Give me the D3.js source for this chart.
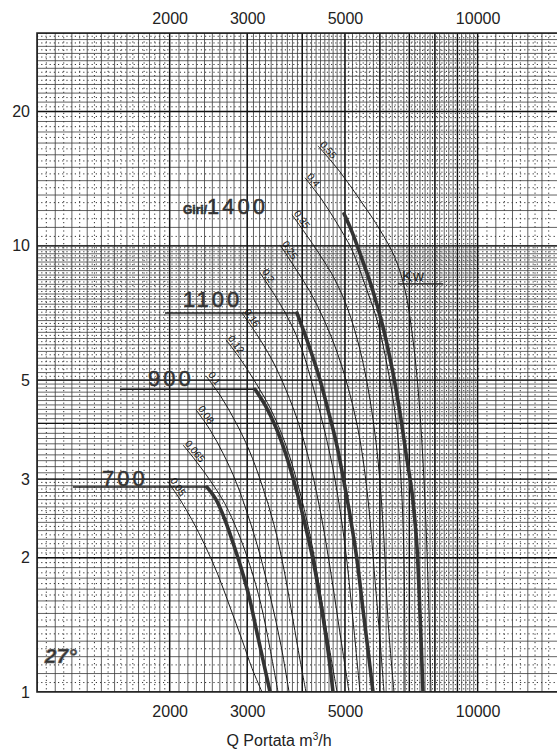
<!DOCTYPE html>
<html>
<head>
<meta charset="utf-8">
<script src="https://cdn.jsdelivr.net/npm/d3@7"></script>
<style>
  html, body { margin: 0; padding: 0; background: #fff; }
  svg { display: block; font-family: "Liberation Sans", Arial, sans-serif; }
</style>
</head>
<body>
<svg width="557" height="752"></svg>
<script>
const width = 557, height = 752;

// tick labels
const qTicks = [2000, 3000, 5000, 10000];
const pTicks = [1, 2, 3, 5, 10, 20];

// fan curves per speed, [Q m3/h, pressure]
const flat700 = [[1207, 2.88], [2431, 2.88]];
const flat900 = [[1543, 4.77], [3125, 4.77]];
const flat1100 = [[1952, 7.07], [3892, 7.07]];
const curve700 = [[2431, 2.88], [2549, 2.70], [2671, 2.43], [2785, 2.16], [2904, 1.90], [3028, 1.64], [3141, 1.39], [3258, 1.18], [3380, 1.0]];
const curve900 = [[3125, 4.77], [3292, 4.40], [3488, 3.91], [3675, 3.40], [3851, 2.91], [4036, 2.43], [4231, 1.98], [4411, 1.57], [4575, 1.24], [4697, 1.0]];
const curve1100 = [[3892, 7.07], [4036, 6.42], [4209, 5.70], [4388, 5.01], [4575, 4.29], [4772, 3.64], [4949, 3.04], [5133, 2.49], [5324, 1.98], [5494, 1.53], [5640, 1.24], [5789, 1.0]];
const curve1400 = [[4975, 11.8], [5187, 10.75], [5494, 9.21], [5759, 8.05], [6099, 6.58], [6426, 5.19], [6666, 4.22], [6915, 3.31], [7097, 2.80], [7285, 2.11], [7400, 1.50], [7517, 1.0]];

// absorbed power lines (kW)
const kwLabels = ["0,55", "0,4", "0,35", "0,25", "0,2", "0,16", "0,12", "0,1", "0,08", "0,065", "0,05"];
const kw055 = [[4343, 16.75], [4872, 14.65], [5409, 12.68], [6004, 10.86], [6494, 9.40], [6843, 7.97], [7134, 6.16], [7361, 4.52], [7556, 2.99], [7716, 1.78], [7839, 1.0]];
const kw04 = [[4058, 14.21], [4434, 12.68], [4821, 11.14], [5187, 9.79], [5552, 8.18], [5912, 6.82], [6260, 5.27], [6528, 4.07], [6701, 2.99], [6807, 1.98], [6843, 1.0]];
const kw035 = [[3791, 11.74], [4058, 10.69], [4388, 9.54], [4747, 8.39], [5080, 7.19], [5409, 5.85], [5699, 4.52], [5942, 3.31], [6131, 2.19], [6260, 1.45], [6460, 1.0]];
const kw025 = [[3561, 10.05], [3851, 8.93], [4165, 7.89], [4504, 6.75], [4821, 5.70], [5133, 4.64], [5409, 3.67], [5640, 2.70], [5850, 1.78], [6004, 1.31], [6131, 1.0]];
const kw02 = [[3207, 8.70], [3470, 7.73], [3733, 6.82], [3994, 5.85], [4253, 4.75], [4504, 3.82], [4747, 2.99], [5001, 2.13], [5214, 1.45], [5409, 1.0]];
const kw016 = [[2919, 7.07], [3158, 6.32], [3416, 5.55], [3675, 4.75], [3933, 3.97], [4187, 3.18], [4434, 2.43], [4673, 1.78], [4897, 1.31], [5107, 1.0]];
const kw012 = [[2685, 6.16], [2904, 5.55], [3141, 4.92], [3398, 4.29], [3655, 3.62], [3912, 2.91], [4165, 2.25], [4388, 1.69], [4600, 1.27], [4797, 1.0]];
const kw01 = [[2419, 5.11], [2616, 4.59], [2815, 4.05], [3028, 3.49], [3241, 2.91], [3451, 2.37], [3636, 1.88], [3811, 1.45], [3953, 1.18], [4079, 1.0]];
const kw008 = [[2296, 4.29], [2470, 3.87], [2643, 3.43], [2829, 2.96], [3012, 2.49], [3207, 2.03], [3398, 1.61], [3580, 1.27], [3733, 1.0]];
const kw0065 = [[2145, 3.58], [2308, 3.27], [2483, 2.96], [2671, 2.64], [2859, 2.28], [3044, 1.92], [3224, 1.57], [3380, 1.25], [3524, 1.0]];
const kw005 = [[1983, 2.96], [2112, 2.70], [2248, 2.43], [2406, 2.13], [2575, 1.83], [2742, 1.55], [2919, 1.31], [3076, 1.13], [3241, 1.0]];

const flats = [flat700, flat900, flat1100];
const curves = [curve700, curve900, curve1100, curve1400];
const kwLines = [kw055, kw04, kw035, kw025, kw02, kw016, kw012, kw01, kw008, kw0065, kw005];

const plotLeft = 37, plotTop = 33, plotBottom = 692;
const x = d3.scaleLog().domain([1000, 15000]).range([plotLeft, plotLeft + 440.6 * Math.log10(15)]);
const y = d3.scaleLog().domain([1, 30]).range([plotBottom, plotTop]);

const svg = d3.select("svg");

svg.append("clipPath").attr("id", "plot")
    .append("rect").attr("x", plotLeft).attr("y", plotTop)
    .attr("width", width - plotLeft).attr("height", plotBottom - plotTop);

// log paper grid: [from, to, solid step, dotted halves?]
function gridValues(ranges) {
    const solid = [], dotted = [];
    ranges.forEach(([a, b, step, dots]) => {
        const n = Math.round((b - a) / step);
        for (let i = 0; i < n; i++) {
            const v = a + i * step;
            solid.push(+v.toFixed(4));
            if (dots) dotted.push(+(v + step / 2).toFixed(4));
        }
    });
    return {solid, dotted};
}
const qGrid = gridValues([[1000, 2000, 100, true], [2000, 5000, 100, false], [5000, 10000, 200, true], [10000, 15000, 1000, true]]);
const pGrid = gridValues([[1, 3, 0.1, true], [3, 5, 0.1, false], [5, 10, 0.2, true], [10, 30, 1, true]]);
const qMajor = d3.range(1000, 11000, 1000);
const pMajor = [1, 2, 3, 4, 5, 10, 20, 30];

const grid = svg.append("g").attr("clip-path", "url(#plot)");

function vLines(vals) {
    return grid.append("g").selectAll("line").data(vals).enter().append("line")
        .attr("x1", d => x(d)).attr("x2", d => x(d)).attr("y1", plotTop).attr("y2", plotBottom);
}
function hLines(vals) {
    return grid.append("g").selectAll("line").data(vals).enter().append("line")
        .attr("x1", plotLeft).attr("x2", width).attr("y1", d => y(d)).attr("y2", d => y(d));
}
[vLines(qGrid.dotted), hLines(pGrid.dotted)].forEach(s => s
    .attr("stroke", "#333").attr("stroke-width", 1).attr("stroke-dasharray", "1.2,3"));
[vLines(qGrid.solid), hLines(pGrid.solid)].forEach(s => s
    .attr("stroke", "#3a3a3a").attr("stroke-width", 0.8));
[vLines(qMajor), hLines(pMajor)].forEach(s => s
    .attr("stroke", "#111").attr("stroke-width", 1.4));

svg.append("path")
    .attr("d", `M${width},${plotTop}H${plotLeft}V${plotBottom}H${width}`)
    .attr("fill", "none").attr("stroke", "#222").attr("stroke-width", 1.6);

// axes
const fmt = d => String(d);
const axTop = svg.append("g").attr("transform", `translate(0,${plotTop})`)
    .call(d3.axisTop(x).tickValues(qTicks).tickFormat(fmt).tickSize(0).tickPadding(9));
const axBottom = svg.append("g").attr("transform", `translate(0,${plotBottom})`)
    .call(d3.axisBottom(x).tickValues(qTicks).tickFormat(fmt).tickSize(0).tickPadding(14));
const axLeft = svg.append("g").attr("transform", `translate(${plotLeft},0)`)
    .call(d3.axisLeft(y).tickValues(pTicks).tickFormat(fmt).tickSize(0).tickPadding(7));
[axTop, axBottom, axLeft].forEach(a => {
    a.select(".domain").remove();
    a.selectAll("text").attr("font-size", 16).attr("fill", "#222")
        .attr("font-family", "'Liberation Sans', Arial, sans-serif");
});

const title = svg.append("text")
    .attr("x", 279).attr("y", 746).attr("text-anchor", "middle")
    .attr("font-size", 16).attr("fill", "#222");
title.append("tspan").text("Q Portata m");
title.append("tspan").attr("font-size", 10).attr("dy", -6).text("3");
title.append("tspan").attr("dy", 6).text("/h");

// curves
const line = d3.line().x(d => x(d[0])).y(d => y(d[1])).curve(d3.curveCatmullRom.alpha(0.5));
const plot = svg.append("g").attr("clip-path", "url(#plot)");

plot.selectAll(".kw").data(kwLines).enter().append("path")
    .attr("class", "kw").attr("d", line)
    .attr("fill", "none").attr("stroke", "#1a1a1a").attr("stroke-width", 1);

plot.selectAll(".flat").data(flats).enter().append("path")
    .attr("class", "flat").attr("d", line)
    .attr("fill", "none").attr("stroke", "#1a1a1a").attr("stroke-width", 1.4);

plot.selectAll(".curve").data(curves).enter().append("path")
    .attr("class", "curve").attr("d", line)
    .attr("fill", "none").attr("stroke", "#333").attr("stroke-width", 3.6)
    .attr("stroke-linecap", "round");

// kW labels sit at the head of each power line, turned along it
plot.selectAll(".kwlabel").data(kwLines).enter().append("text")
    .attr("class", "kwlabel")
    .attr("transform", d => {
        const x0 = x(d[0][0]), y0 = y(d[0][1]);
        const a = Math.atan2(y(d[1][1]) - y0, x(d[1][0]) - x0) * 180 / Math.PI;
        return `translate(${x0},${y0}) rotate(${a})`;
    })
    .attr("dy", -2).attr("font-size", 10).attr("fill", "#111")
    .text((d, i) => kwLabels[i]);

// speed labels
const bigSize = 22, bigSpacing = 3;
const giri = svg.append("text").attr("x", x(2145)).attr("y", y(11.8))
    .attr("fill", "#333").attr("stroke", "#333").attr("stroke-width", 0.5);
giri.append("tspan").attr("font-weight", "bold").attr("font-size", 12).text("Giri/");
giri.append("tspan").attr("font-size", bigSize).attr("letter-spacing", bigSpacing).text("1400");
[["1100", 2145, 7.3], ["900", 1786, 4.85], ["700", 1404, 2.9]].forEach(([t, q, p]) => {
    svg.append("text").attr("x", x(q)).attr("y", y(p))
        .attr("fill", "#333").attr("stroke", "#333").attr("stroke-width", 0.5)
        .attr("font-size", bigSize).attr("letter-spacing", bigSpacing)
        .text(t);
});

svg.append("text").attr("x", x(6736)).attr("y", y(8.35))
    .attr("font-size", 15).attr("fill", "#222").attr("letter-spacing", 1).text("Kw");
svg.append("line")
    .attr("x1", x(6596)).attr("x2", x(8346)).attr("y1", y(8.22)).attr("y2", y(8.22))
    .attr("stroke", "#222").attr("stroke-width", 1.3);

svg.append("text").attr("x", x(1042)).attr("y", y(1.16))
    .attr("font-size", 21).attr("font-weight", "bold").attr("font-style", "italic")
    .attr("fill", "#333").attr("stroke", "#777").attr("stroke-width", 0.6)
    .text("27°");
</script>
</body>
</html>
